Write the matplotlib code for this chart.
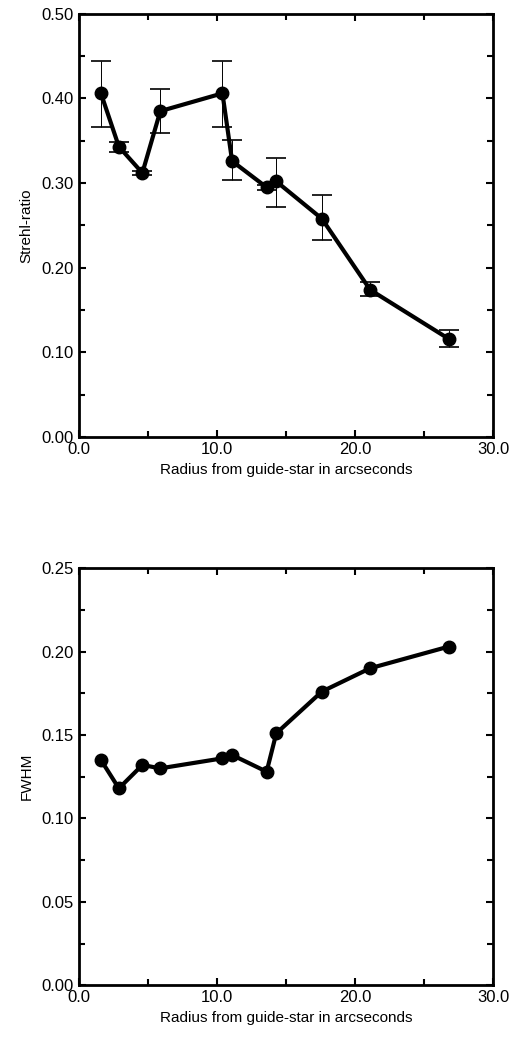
import numpy as np
import matplotlib
matplotlib.use("Agg")
import matplotlib.pyplot as plt
from matplotlib.ticker import MultipleLocator, FormatStrFormatter

radius = [1.6, 2.9, 4.6, 5.9, 10.4, 11.1, 13.6, 14.3, 17.6, 21.1, 26.8]
strehl = [0.406, 0.343, 0.312, 0.385, 0.406, 0.326, 0.295, 0.302, 0.258, 0.174, 0.116]
strehl_hi = [0.444, 0.348, 0.314, 0.411, 0.444, 0.351, 0.298, 0.330, 0.286, 0.183, 0.127]
strehl_lo = [0.366, 0.337, 0.309, 0.359, 0.366, 0.304, 0.292, 0.272, 0.233, 0.167, 0.107]
fwhm = [0.135, 0.118, 0.132, 0.130, 0.136, 0.138, 0.128, 0.151, 0.176, 0.190, 0.203]

plt.rcParams['font.family'] = ['Liberation Sans', 'DejaVu Sans']

fig = plt.figure(figsize=(5.12, 10.56), dpi=100)
ax1 = fig.add_axes([0.154, 0.586, 0.809, 0.401])
ax2 = fig.add_axes([0.154, 0.067, 0.809, 0.395])

s = np.array(strehl)
err = [s - np.array(strehl_lo), np.array(strehl_hi) - s]
ax1.errorbar(radius, strehl, yerr=err, fmt='none', ecolor='black',
             elinewidth=0.7, capsize=7, capthick=1.2, linestyle='-.')
ax1.plot(radius, strehl, color='black', lw=3, marker='o', ms=9)
ax2.plot(radius, fwhm, color='black', lw=3, marker='o', ms=9)

for ax, ymax, ymaj, ymin, lab in [(ax1, 0.5, 0.1, 0.05, 'Strehl-ratio'),
                                  (ax2, 0.25, 0.05, 0.025, 'FWHM')]:
    ax.set_xlim(0, 30)
    ax.set_ylim(0, ymax)
    ax.xaxis.set_major_locator(MultipleLocator(10))
    ax.xaxis.set_minor_locator(MultipleLocator(5))
    ax.yaxis.set_major_locator(MultipleLocator(ymaj))
    ax.yaxis.set_minor_locator(MultipleLocator(ymin))
    ax.xaxis.set_major_formatter(FormatStrFormatter('%.1f'))
    ax.yaxis.set_major_formatter(FormatStrFormatter('%.2f'))
    ax.tick_params(which='both', direction='in', top=True, right=True,
                   width=1.5, labelsize=12)
    ax.tick_params(which='major', length=5)
    ax.tick_params(which='minor', length=4)
    for sp in ax.spines.values():
        sp.set_linewidth(2)
    ax.set_xlabel('Radius from guide-star in arcseconds', fontsize=11)
    ax.set_ylabel(lab, fontsize=11, labelpad=6)

fig.savefig('out.png', dpi=100)
